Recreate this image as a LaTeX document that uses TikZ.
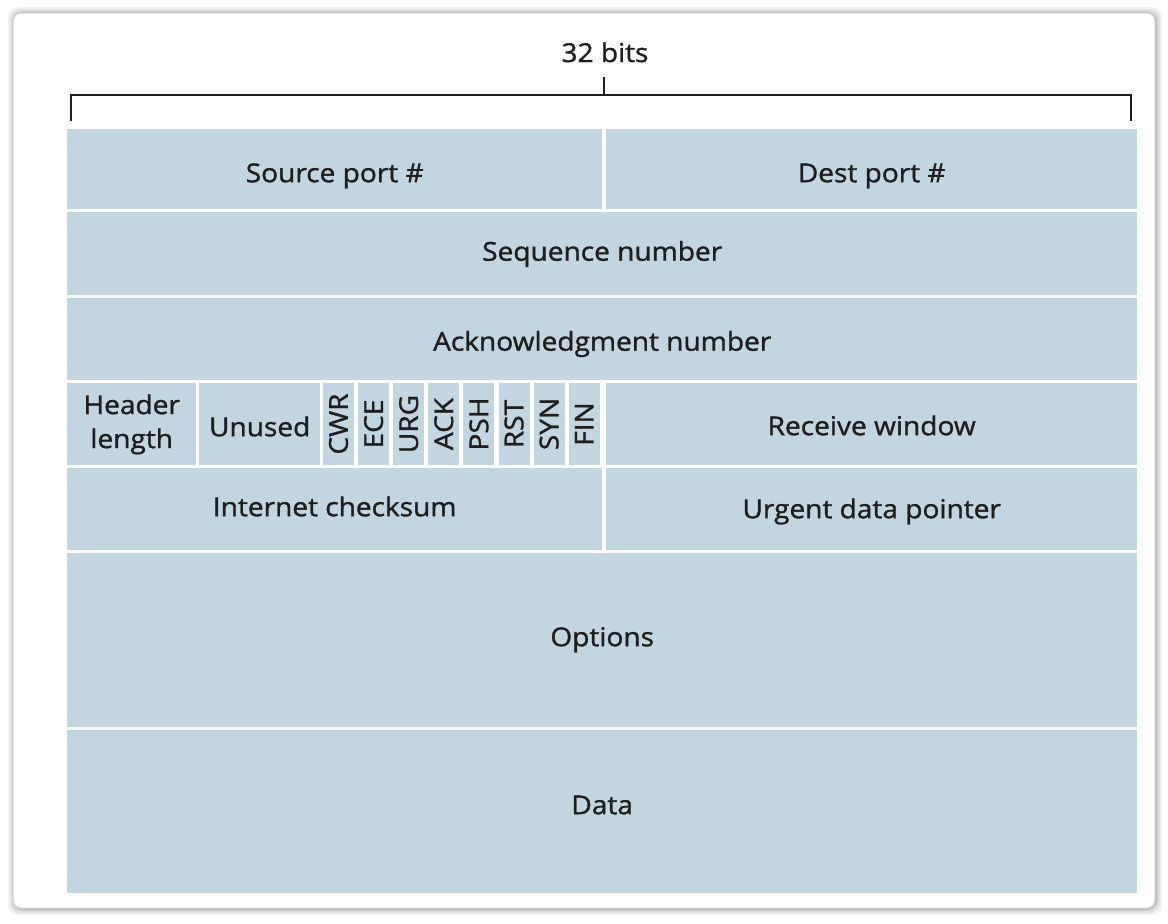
\documentclass[tikz,border=0pt]{standalone}
\usepackage{fontspec}
\setmainfont{Open Sans}[FakeStretch=1.08,UprightFeatures={FakeBold=1.2}]
\usetikzlibrary{positioning}
\definecolor{fieldblue}{HTML}{C1D6E0}
\definecolor{inkgray}{HTML}{1E1E1E}

\begin{document}
\begin{tikzpicture}[x=1pt,y=-1pt,
  field/.style={fill=fieldblue,inner sep=0pt,anchor=north west,align=center,
    text=inkgray,text depth=6,font=\fontsize{26}{30}\selectfont},
  base/.style={text height=#1},
  flag/.style={fill=fieldblue,inner sep=0pt,rotate=90,text=inkgray,
    minimum width=82,minimum height=31,font=\fontsize{26}{30}\selectfont}]
\useasboundingbox (0,0) rectangle (1168,924);

% Panel with soft shadow
\foreach \s/\o in {7/0.05,5/0.07,3/0.09,1.5/0.12}
  \fill[black,opacity=\o,rounded corners=10] (13-\s+2,13-\s+1) rectangle (1155+\s,908+\s);
\fill[white,draw=gray!35,line width=1,rounded corners=8] (13,13) rectangle (1155,908);

% 32 bits bracket
\node[anchor=base,text=inkgray,font=\fontsize{26}{30}\selectfont] (bits) at (605,62) {32 bits};
\draw[inkgray,line width=1.5] (71,121) -- (71,95) -- (1131,95) -- (1131,121);
\draw[inkgray,line width=1.5] (604,95) -- (604,77);

% Row 1
\node[field,base=32,minimum width=535,minimum height=80] (src) at (67,129) {Source port \#};
\node[field,base=32,minimum width=531,minimum height=80] (dst) at (606,129) {Dest port \#};
% Rows 2, 3
\node[field,base=20,minimum width=1070,minimum height=83] (seq) at (67,212) {Sequence number};
\node[field,base=29,minimum width=1070,minimum height=82] (ack) at (67,298) {Acknowledgment number};
% Row 4
\node[field,minimum width=129,minimum height=82,
  font=\fontsize{26}{34}\selectfont] (hlen) at (67,383) {Header\\length};
\node[field,base=30,minimum width=121,minimum height=82] (unused) at (199,383) {Unused};
\foreach \f [count=\i from 0] in {CWR,ECE,URG,ACK,PSH,RST,SYN,FIN}
  \node[flag] (\f) at (338.5+\i*35.1,424) {\f};
\node[field,base=28,minimum width=531,minimum height=82] (rwnd) at (606,383) {Receive window};
% Row 5
\node[field,base=20,minimum width=535,minimum height=82] (csum) at (67,468) {Internet checksum};
\node[field,base=24,minimum width=531,minimum height=82] (urg) at (606,468) {Urgent data pointer};
% Options and data
\node[field,base=18,minimum width=1070,minimum height=174] (opts) at (67,553) {Options};
\node[field,base=11,minimum width=1070,minimum height=163] (data) at (67,730) {Data};
\end{tikzpicture}
\end{document}
